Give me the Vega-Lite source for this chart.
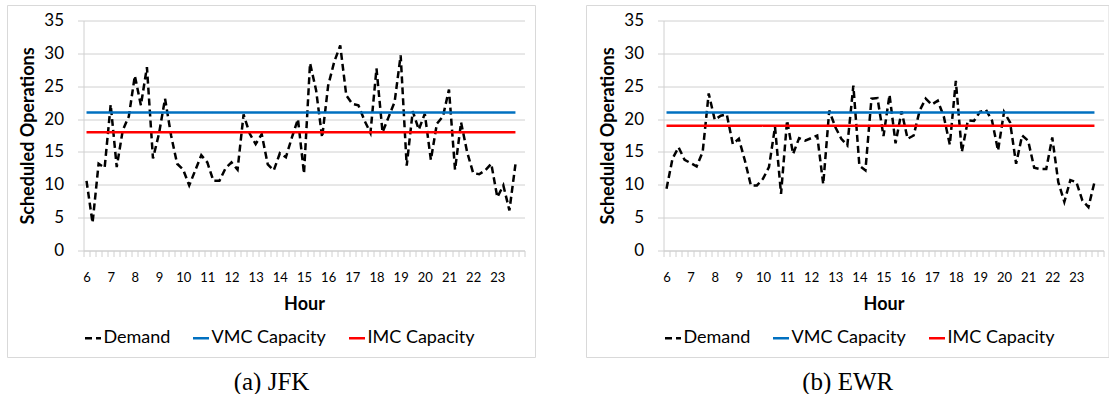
{
  "$schema": "https://vega.github.io/schema/vega-lite/v6.json",
  "background": "white",
  "padding": {"left": 6.5, "top": 4.5, "right": 0, "bottom": 0},
  "spacing": 49,
  "resolve": {"scale": {"color": "independent", "strokeDash": "independent"}},
  "config": {
    "font": "Lato",
    "view": {"stroke": null},
    "axis": {"labelColor": "black", "titleColor": "black", "labelFont": "Lato", "titleFont": "Lato"},
    "legend": {"labelFont": "Lato", "labelColor": "black"}
  },
  "data": {"values": [
    {"airport":"JFK","series":"Demand","hour":6,"ops":10.6},{"airport":"JFK","series":"Demand","hour":6.25,"ops":4.2},{"airport":"JFK","series":"Demand","hour":6.5,"ops":13.2},{"airport":"JFK","series":"Demand","hour":6.75,"ops":12.6},
    {"airport":"JFK","series":"Demand","hour":7,"ops":22.2},{"airport":"JFK","series":"Demand","hour":7.25,"ops":12.7},{"airport":"JFK","series":"Demand","hour":7.5,"ops":18.3},{"airport":"JFK","series":"Demand","hour":7.75,"ops":20.4},
    {"airport":"JFK","series":"Demand","hour":8,"ops":26.6},{"airport":"JFK","series":"Demand","hour":8.25,"ops":22.1},{"airport":"JFK","series":"Demand","hour":8.5,"ops":27.9},{"airport":"JFK","series":"Demand","hour":8.75,"ops":14.0},
    {"airport":"JFK","series":"Demand","hour":9,"ops":17.8},{"airport":"JFK","series":"Demand","hour":9.25,"ops":23.1},{"airport":"JFK","series":"Demand","hour":9.5,"ops":17.5},{"airport":"JFK","series":"Demand","hour":9.75,"ops":13.2},
    {"airport":"JFK","series":"Demand","hour":10,"ops":12.3},{"airport":"JFK","series":"Demand","hour":10.25,"ops":9.9},{"airport":"JFK","series":"Demand","hour":10.5,"ops":12.2},{"airport":"JFK","series":"Demand","hour":10.75,"ops":14.5},
    {"airport":"JFK","series":"Demand","hour":11,"ops":13.4},{"airport":"JFK","series":"Demand","hour":11.25,"ops":10.6},{"airport":"JFK","series":"Demand","hour":11.5,"ops":10.6},{"airport":"JFK","series":"Demand","hour":11.75,"ops":12.5},
    {"airport":"JFK","series":"Demand","hour":12,"ops":13.4},{"airport":"JFK","series":"Demand","hour":12.25,"ops":12.3},{"airport":"JFK","series":"Demand","hour":12.5,"ops":20.7},{"airport":"JFK","series":"Demand","hour":12.75,"ops":17.8},
    {"airport":"JFK","series":"Demand","hour":13,"ops":16.2},{"airport":"JFK","series":"Demand","hour":13.25,"ops":17.7},{"airport":"JFK","series":"Demand","hour":13.5,"ops":13.1},{"airport":"JFK","series":"Demand","hour":13.75,"ops":12.2},
    {"airport":"JFK","series":"Demand","hour":14,"ops":14.8},{"airport":"JFK","series":"Demand","hour":14.25,"ops":14.2},{"airport":"JFK","series":"Demand","hour":14.5,"ops":17.2},{"airport":"JFK","series":"Demand","hour":14.75,"ops":20.0},
    {"airport":"JFK","series":"Demand","hour":15,"ops":11.7},{"airport":"JFK","series":"Demand","hour":15.25,"ops":28.5},{"airport":"JFK","series":"Demand","hour":15.5,"ops":24.4},{"airport":"JFK","series":"Demand","hour":15.75,"ops":17.2},
    {"airport":"JFK","series":"Demand","hour":16,"ops":25.1},{"airport":"JFK","series":"Demand","hour":16.25,"ops":28.7},{"airport":"JFK","series":"Demand","hour":16.5,"ops":31.2},{"airport":"JFK","series":"Demand","hour":16.75,"ops":23.6},
    {"airport":"JFK","series":"Demand","hour":17,"ops":22.3},{"airport":"JFK","series":"Demand","hour":17.25,"ops":22.1},{"airport":"JFK","series":"Demand","hour":17.5,"ops":19.8},{"airport":"JFK","series":"Demand","hour":17.75,"ops":17.9},
    {"airport":"JFK","series":"Demand","hour":18,"ops":27.7},{"airport":"JFK","series":"Demand","hour":18.25,"ops":18.0},{"airport":"JFK","series":"Demand","hour":18.5,"ops":20.3},{"airport":"JFK","series":"Demand","hour":18.75,"ops":22.6},
    {"airport":"JFK","series":"Demand","hour":19,"ops":29.7},{"airport":"JFK","series":"Demand","hour":19.25,"ops":12.9},{"airport":"JFK","series":"Demand","hour":19.5,"ops":21.2},{"airport":"JFK","series":"Demand","hour":19.75,"ops":18.4},
    {"airport":"JFK","series":"Demand","hour":20,"ops":20.8},{"airport":"JFK","series":"Demand","hour":20.25,"ops":13.8},{"airport":"JFK","series":"Demand","hour":20.5,"ops":19.3},{"airport":"JFK","series":"Demand","hour":20.75,"ops":20.4},
    {"airport":"JFK","series":"Demand","hour":21,"ops":24.5},{"airport":"JFK","series":"Demand","hour":21.25,"ops":12.3},{"airport":"JFK","series":"Demand","hour":21.5,"ops":19.5},{"airport":"JFK","series":"Demand","hour":21.75,"ops":15.0},
    {"airport":"JFK","series":"Demand","hour":22,"ops":11.8},{"airport":"JFK","series":"Demand","hour":22.25,"ops":11.6},{"airport":"JFK","series":"Demand","hour":22.5,"ops":12.2},{"airport":"JFK","series":"Demand","hour":22.75,"ops":13.2},
    {"airport":"JFK","series":"Demand","hour":23,"ops":8.1},{"airport":"JFK","series":"Demand","hour":23.25,"ops":9.9},{"airport":"JFK","series":"Demand","hour":23.5,"ops":6.1},{"airport":"JFK","series":"Demand","hour":23.75,"ops":13.1},
    {"airport":"JFK","series":"VMC Capacity","hour":6,"ops":21},{"airport":"JFK","series":"VMC Capacity","hour":23.75,"ops":21},
    {"airport":"JFK","series":"IMC Capacity","hour":6,"ops":18},{"airport":"JFK","series":"IMC Capacity","hour":23.75,"ops":18},
    {"airport":"EWR","series":"Demand","hour":6,"ops":9.4},{"airport":"EWR","series":"Demand","hour":6.25,"ops":14.0},{"airport":"EWR","series":"Demand","hour":6.5,"ops":15.7},{"airport":"EWR","series":"Demand","hour":6.75,"ops":13.8},
    {"airport":"EWR","series":"Demand","hour":7,"ops":13.3},{"airport":"EWR","series":"Demand","hour":7.25,"ops":12.8},{"airport":"EWR","series":"Demand","hour":7.5,"ops":15.0},{"airport":"EWR","series":"Demand","hour":7.75,"ops":23.9},
    {"airport":"EWR","series":"Demand","hour":8,"ops":19.9},{"airport":"EWR","series":"Demand","hour":8.25,"ops":20.5},{"airport":"EWR","series":"Demand","hour":8.5,"ops":20.7},{"airport":"EWR","series":"Demand","hour":8.75,"ops":16.2},
    {"airport":"EWR","series":"Demand","hour":9,"ops":17.0},{"airport":"EWR","series":"Demand","hour":9.25,"ops":13.7},{"airport":"EWR","series":"Demand","hour":9.5,"ops":9.9},{"airport":"EWR","series":"Demand","hour":9.75,"ops":9.9},
    {"airport":"EWR","series":"Demand","hour":10,"ops":10.9},{"airport":"EWR","series":"Demand","hour":10.25,"ops":12.7},{"airport":"EWR","series":"Demand","hour":10.5,"ops":18.8},{"airport":"EWR","series":"Demand","hour":10.75,"ops":8.6},
    {"airport":"EWR","series":"Demand","hour":11,"ops":19.8},{"airport":"EWR","series":"Demand","hour":11.25,"ops":14.7},{"airport":"EWR","series":"Demand","hour":11.5,"ops":17.1},{"airport":"EWR","series":"Demand","hour":11.75,"ops":16.7},
    {"airport":"EWR","series":"Demand","hour":12,"ops":17.1},{"airport":"EWR","series":"Demand","hour":12.25,"ops":17.5},{"airport":"EWR","series":"Demand","hour":12.5,"ops":10.1},{"airport":"EWR","series":"Demand","hour":12.75,"ops":21.3},
    {"airport":"EWR","series":"Demand","hour":13,"ops":18.8},{"airport":"EWR","series":"Demand","hour":13.25,"ops":17.0},{"airport":"EWR","series":"Demand","hour":13.5,"ops":16.0},{"airport":"EWR","series":"Demand","hour":13.75,"ops":25.1},
    {"airport":"EWR","series":"Demand","hour":14,"ops":12.9},{"airport":"EWR","series":"Demand","hour":14.25,"ops":12.2},{"airport":"EWR","series":"Demand","hour":14.5,"ops":23.1},{"airport":"EWR","series":"Demand","hour":14.75,"ops":23.2},
    {"airport":"EWR","series":"Demand","hour":15,"ops":17.4},{"airport":"EWR","series":"Demand","hour":15.25,"ops":23.7},{"airport":"EWR","series":"Demand","hour":15.5,"ops":16.3},{"airport":"EWR","series":"Demand","hour":15.75,"ops":21.2},
    {"airport":"EWR","series":"Demand","hour":16,"ops":17.0},{"airport":"EWR","series":"Demand","hour":16.25,"ops":17.5},{"airport":"EWR","series":"Demand","hour":16.5,"ops":21.3},{"airport":"EWR","series":"Demand","hour":16.75,"ops":23.1},
    {"airport":"EWR","series":"Demand","hour":17,"ops":22.2},{"airport":"EWR","series":"Demand","hour":17.25,"ops":22.8},{"airport":"EWR","series":"Demand","hour":17.5,"ops":20.4},{"airport":"EWR","series":"Demand","hour":17.75,"ops":16.1},
    {"airport":"EWR","series":"Demand","hour":18,"ops":25.8},{"airport":"EWR","series":"Demand","hour":18.25,"ops":15.0},{"airport":"EWR","series":"Demand","hour":18.5,"ops":19.8},{"airport":"EWR","series":"Demand","hour":18.75,"ops":19.7},
    {"airport":"EWR","series":"Demand","hour":19,"ops":21.1},{"airport":"EWR","series":"Demand","hour":19.25,"ops":21.4},{"airport":"EWR","series":"Demand","hour":19.5,"ops":19.8},{"airport":"EWR","series":"Demand","hour":19.75,"ops":15.2},
    {"airport":"EWR","series":"Demand","hour":20,"ops":21.1},{"airport":"EWR","series":"Demand","hour":20.25,"ops":19.5},{"airport":"EWR","series":"Demand","hour":20.5,"ops":13.2},{"airport":"EWR","series":"Demand","hour":20.75,"ops":17.5},
    {"airport":"EWR","series":"Demand","hour":21,"ops":16.7},{"airport":"EWR","series":"Demand","hour":21.25,"ops":12.6},{"airport":"EWR","series":"Demand","hour":21.5,"ops":12.4},{"airport":"EWR","series":"Demand","hour":21.75,"ops":12.4},
    {"airport":"EWR","series":"Demand","hour":22,"ops":17.2},{"airport":"EWR","series":"Demand","hour":22.25,"ops":10.4},{"airport":"EWR","series":"Demand","hour":22.5,"ops":7.4},{"airport":"EWR","series":"Demand","hour":22.75,"ops":10.7},
    {"airport":"EWR","series":"Demand","hour":23,"ops":10.4},{"airport":"EWR","series":"Demand","hour":23.25,"ops":7.6},{"airport":"EWR","series":"Demand","hour":23.5,"ops":6.6},{"airport":"EWR","series":"Demand","hour":23.75,"ops":10.4},
    {"airport":"EWR","series":"VMC Capacity","hour":6,"ops":21},{"airport":"EWR","series":"VMC Capacity","hour":23.75,"ops":21},
    {"airport":"EWR","series":"IMC Capacity","hour":6,"ops":19},{"airport":"EWR","series":"IMC Capacity","hour":23.75,"ops":19}
  ]},
  "hconcat": [
    {
      "width": 441, "height": 230,
      "title": {"text": "(a) JFK", "orient": "bottom", "frame": "bounds", "anchor": "middle", "offset": 12, "font": "Liberation Serif", "fontSize": 25, "fontWeight": "normal", "color": "black"},
      "layer": [
        {
          "data": {"values": [{"left": 2.73, "right": 24.58, "top": 37.283, "bottom": -16.283}]},
          "mark": {"type": "rect", "fill": "transparent", "stroke": "#d9d9d9", "strokeWidth": 1, "clip": false},
          "encoding": {
            "x": {"field": "left", "type": "quantitative", "scale": {"domain": [5.875, 24.125], "nice": false, "zero": false},
              "axis": {"title": "Hour", "titleFontSize": 18, "titleFontWeight": "bold", "titlePadding": 11,
                "values": [5.875,6.125,6.375,6.625,6.875,7.125,7.375,7.625,7.875,8.125,8.375,8.625,8.875,9.125,9.375,9.625,9.875,10.125,10.375,10.625,10.875,11.125,11.375,11.625,11.875,12.125,12.375,12.625,12.875,13.125,13.375,13.625,13.875,14.125,14.375,14.625,14.875,15.125,15.375,15.625,15.875,16.125,16.375,16.625,16.875,17.125,17.375,17.625,17.875,18.125,18.375,18.625,18.875,19.125,19.375,19.625,19.875,20.125,20.375,20.625,20.875,21.125,21.375,21.625,21.875,22.125,22.375,22.625,22.875,23.125,23.375,23.625,23.875,24.125,6,7,8,9,10,11,12,13,14,15,16,17,18,19,20,21,22,23],
                "labelExpr": "datum.value % 1 === 0 ? '' + datum.value : ''",
                "tickOpacity": {"condition": {"test": "datum.value % 1 === 0", "value": 0}, "value": 1},
                "grid": false, "domainColor": "#d0d0d0", "tickColor": "#d0d0d0", "tickSize": 6,
                "labelFontSize": 13, "labelPadding": 15, "labelOverlap": false, "labelFlush": false}},
            "x2": {"field": "right"},
            "y": {"field": "top", "type": "quantitative", "scale": {"domain": [0, 35], "nice": false},
              "axis": {"title": "Scheduled Operations", "titleFontSize": 18, "titleFontWeight": "bold", "titlePadding": 6,
                "values": [0,5,10,15,20,25,30,35], "grid": true, "gridColor": "#d0d0d0", "domainColor": "#d0d0d0", "tickColor": "#d0d0d0", "tickSize": 6,
                "labelFontSize": 17, "labelPadding": 14, "labelOverlap": false}},
            "y2": {"field": "bottom"}
          }
        },
        {
          "transform": [{"filter": "datum.airport === 'JFK'"}],
          "mark": {"type": "line", "strokeWidth": 2.5},
          "encoding": {
            "x": {"field": "hour", "type": "quantitative", "scale": {"domain": [5.875, 24.125], "nice": false, "zero": false},
              "axis": {"title": "Hour", "titleFontSize": 18, "titleFontWeight": "bold", "titlePadding": 11,
                "values": [5.875,6.125,6.375,6.625,6.875,7.125,7.375,7.625,7.875,8.125,8.375,8.625,8.875,9.125,9.375,9.625,9.875,10.125,10.375,10.625,10.875,11.125,11.375,11.625,11.875,12.125,12.375,12.625,12.875,13.125,13.375,13.625,13.875,14.125,14.375,14.625,14.875,15.125,15.375,15.625,15.875,16.125,16.375,16.625,16.875,17.125,17.375,17.625,17.875,18.125,18.375,18.625,18.875,19.125,19.375,19.625,19.875,20.125,20.375,20.625,20.875,21.125,21.375,21.625,21.875,22.125,22.375,22.625,22.875,23.125,23.375,23.625,23.875,24.125,6,7,8,9,10,11,12,13,14,15,16,17,18,19,20,21,22,23],
                "labelExpr": "datum.value % 1 === 0 ? '' + datum.value : ''",
                "tickOpacity": {"condition": {"test": "datum.value % 1 === 0", "value": 0}, "value": 1},
                "grid": false, "domainColor": "#d0d0d0", "tickColor": "#d0d0d0", "tickSize": 6,
                "labelFontSize": 13, "labelPadding": 15, "labelOverlap": false, "labelFlush": false}},
            "y": {"field": "ops", "type": "quantitative", "scale": {"domain": [0, 35], "nice": false},
              "axis": {"title": "Scheduled Operations", "titleFontSize": 18, "titleFontWeight": "bold", "titlePadding": 6,
                "values": [0,5,10,15,20,25,30,35], "grid": true, "gridColor": "#d0d0d0", "domainColor": "#d0d0d0", "tickColor": "#d0d0d0", "tickSize": 6,
                "labelFontSize": 17, "labelPadding": 14, "labelOverlap": false}},
            "color": {"field": "series", "type": "nominal",
              "scale": {"domain": ["Demand", "VMC Capacity", "IMC Capacity"], "range": ["#000000", "#0070C0", "#FF0000"]},
              "legend": {"title": null, "orient": "bottom", "direction": "horizontal", "symbolType": "stroke", "symbolSize": 256, "symbolStrokeWidth": 2.5, "labelFontSize": 18, "labelOffset": 1, "columnPadding": 17, "offset": 15}},
            "strokeDash": {"field": "series", "type": "nominal",
              "scale": {"domain": ["Demand", "VMC Capacity", "IMC Capacity"], "range": [[7, 4], [1, 0], [1, 0]]},
              "legend": {"title": null, "orient": "bottom", "direction": "horizontal", "symbolType": "stroke", "symbolSize": 256, "symbolStrokeWidth": 2.5, "labelFontSize": 18, "labelOffset": 1, "columnPadding": 17, "offset": 15}}
          }
        }
      ]
    },
    {
      "width": 440, "height": 230,
      "title": {"text": "(b) EWR", "orient": "bottom", "frame": "bounds", "anchor": "middle", "offset": 12, "font": "Liberation Serif", "fontSize": 25, "fontWeight": "normal", "color": "black"},
      "layer": [
        {
          "data": {"values": [{"left": 2.681, "right": 24.353, "top": 37.283, "bottom": -16.283}]},
          "mark": {"type": "rect", "fill": "transparent", "stroke": "#d9d9d9", "strokeWidth": 1, "clip": false},
          "encoding": {
            "x": {"field": "left", "type": "quantitative", "scale": {"domain": [5.875, 24.125], "nice": false, "zero": false},
              "axis": {"title": "Hour", "titleFontSize": 18, "titleFontWeight": "bold", "titlePadding": 11,
                "values": [5.875,6.125,6.375,6.625,6.875,7.125,7.375,7.625,7.875,8.125,8.375,8.625,8.875,9.125,9.375,9.625,9.875,10.125,10.375,10.625,10.875,11.125,11.375,11.625,11.875,12.125,12.375,12.625,12.875,13.125,13.375,13.625,13.875,14.125,14.375,14.625,14.875,15.125,15.375,15.625,15.875,16.125,16.375,16.625,16.875,17.125,17.375,17.625,17.875,18.125,18.375,18.625,18.875,19.125,19.375,19.625,19.875,20.125,20.375,20.625,20.875,21.125,21.375,21.625,21.875,22.125,22.375,22.625,22.875,23.125,23.375,23.625,23.875,24.125,6,7,8,9,10,11,12,13,14,15,16,17,18,19,20,21,22,23],
                "labelExpr": "datum.value % 1 === 0 ? '' + datum.value : ''",
                "tickOpacity": {"condition": {"test": "datum.value % 1 === 0", "value": 0}, "value": 1},
                "grid": false, "domainColor": "#d0d0d0", "tickColor": "#d0d0d0", "tickSize": 6,
                "labelFontSize": 13, "labelPadding": 15, "labelOverlap": false, "labelFlush": false}},
            "x2": {"field": "right"},
            "y": {"field": "top", "type": "quantitative", "scale": {"domain": [0, 35], "nice": false},
              "axis": {"title": "Scheduled Operations", "titleFontSize": 18, "titleFontWeight": "bold", "titlePadding": 6,
                "values": [0,5,10,15,20,25,30,35], "grid": true, "gridColor": "#d0d0d0", "domainColor": "#d0d0d0", "tickColor": "#d0d0d0", "tickSize": 6,
                "labelFontSize": 17, "labelPadding": 14, "labelOverlap": false}},
            "y2": {"field": "bottom"}
          }
        },
        {
          "transform": [{"filter": "datum.airport === 'EWR'"}],
          "mark": {"type": "line", "strokeWidth": 2.5},
          "encoding": {
            "x": {"field": "hour", "type": "quantitative", "scale": {"domain": [5.875, 24.125], "nice": false, "zero": false},
              "axis": {"title": "Hour", "titleFontSize": 18, "titleFontWeight": "bold", "titlePadding": 11,
                "values": [5.875,6.125,6.375,6.625,6.875,7.125,7.375,7.625,7.875,8.125,8.375,8.625,8.875,9.125,9.375,9.625,9.875,10.125,10.375,10.625,10.875,11.125,11.375,11.625,11.875,12.125,12.375,12.625,12.875,13.125,13.375,13.625,13.875,14.125,14.375,14.625,14.875,15.125,15.375,15.625,15.875,16.125,16.375,16.625,16.875,17.125,17.375,17.625,17.875,18.125,18.375,18.625,18.875,19.125,19.375,19.625,19.875,20.125,20.375,20.625,20.875,21.125,21.375,21.625,21.875,22.125,22.375,22.625,22.875,23.125,23.375,23.625,23.875,24.125,6,7,8,9,10,11,12,13,14,15,16,17,18,19,20,21,22,23],
                "labelExpr": "datum.value % 1 === 0 ? '' + datum.value : ''",
                "tickOpacity": {"condition": {"test": "datum.value % 1 === 0", "value": 0}, "value": 1},
                "grid": false, "domainColor": "#d0d0d0", "tickColor": "#d0d0d0", "tickSize": 6,
                "labelFontSize": 13, "labelPadding": 15, "labelOverlap": false, "labelFlush": false}},
            "y": {"field": "ops", "type": "quantitative", "scale": {"domain": [0, 35], "nice": false},
              "axis": {"title": "Scheduled Operations", "titleFontSize": 18, "titleFontWeight": "bold", "titlePadding": 6,
                "values": [0,5,10,15,20,25,30,35], "grid": true, "gridColor": "#d0d0d0", "domainColor": "#d0d0d0", "tickColor": "#d0d0d0", "tickSize": 6,
                "labelFontSize": 17, "labelPadding": 14, "labelOverlap": false}},
            "color": {"field": "series", "type": "nominal",
              "scale": {"domain": ["Demand", "VMC Capacity", "IMC Capacity"], "range": ["#000000", "#0070C0", "#FF0000"]},
              "legend": {"title": null, "orient": "bottom", "direction": "horizontal", "symbolType": "stroke", "symbolSize": 256, "symbolStrokeWidth": 2.5, "labelFontSize": 18, "labelOffset": 1, "columnPadding": 17, "offset": 15}},
            "strokeDash": {"field": "series", "type": "nominal",
              "scale": {"domain": ["Demand", "VMC Capacity", "IMC Capacity"], "range": [[7, 4], [1, 0], [1, 0]]},
              "legend": {"title": null, "orient": "bottom", "direction": "horizontal", "symbolType": "stroke", "symbolSize": 256, "symbolStrokeWidth": 2.5, "labelFontSize": 18, "labelOffset": 1, "columnPadding": 17, "offset": 15}}
          }
        }
      ]
    }
  ]
}
